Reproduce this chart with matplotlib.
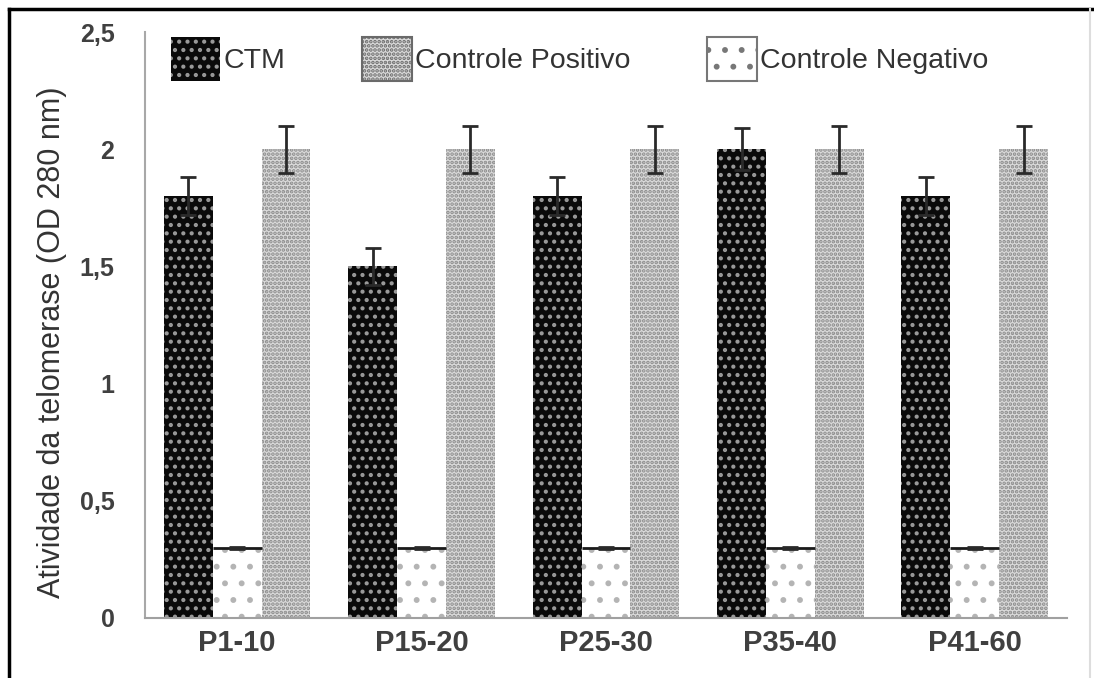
import numpy as np
import matplotlib
matplotlib.use("Agg")
import matplotlib.pyplot as plt
from matplotlib.patches import Patch
from matplotlib.lines import Line2D

plt.rcParams['font.family'] = ['Liberation Sans', 'DejaVu Sans']
plt.rcParams['hatch.linewidth'] = 1.8

grupos = ["P1-10", "P15-20", "P25-30", "P35-40", "P41-60"]
ctm = [1.8, 1.5, 1.8, 2.0, 1.8]
ctm_err = [0.08, 0.08, 0.08, 0.09, 0.08]
positivo = [2.0, 2.0, 2.0, 2.0, 2.0]
positivo_err = [0.1, 0.1, 0.1, 0.1, 0.1]
negativo = [0.3, 0.3, 0.3, 0.3, 0.3]
negativo_err = [0.005, 0.005, 0.005, 0.005, 0.005]
yticks = [0, 0.5, 1, 1.5, 2, 2.5]
ytick_labels = ["0", "0,5", "1", "1,5", "2", "2,5"]

fig = plt.figure(figsize=(10.94, 6.78), dpi=100)
ax = fig.add_axes([0.1325, 0.0885, 0.8428, 0.8643])

x = np.arange(len(grupos))
w = 0.265
err_kw = dict(ecolor='#2a2a2a', elinewidth=2, capsize=6, capthick=2)

# CTM: preto com pontos cinza claro
ax.bar(x - w, ctm, w, color='#0a0a0a', edgecolor='#9a9a9a', hatch='..',
       linewidth=0, yerr=ctm_err, error_kw=err_kw, zorder=2)
# Controle Negativo: branco com pontos esparsos
ax.bar(x, negativo, w, color='white', edgecolor='#b4b4b4', hatch='.',
       linewidth=0, zorder=2)
ax.hlines(negativo, x - w / 2, x + w / 2, color='#1a1a1a', linewidth=2, zorder=3)
ax.errorbar(x, negativo, yerr=negativo_err, fmt='none', zorder=4, **err_kw)
# Controle Positivo: cinza pontilhado
ax.bar(x + w, positivo, w, color='#dadada', edgecolor='#8a8a8a', hatch='....',
       linewidth=0, yerr=positivo_err, error_kw=err_kw, zorder=2)

ax.set_xlim(-0.5, len(grupos) - 0.5)
ax.set_ylim(0, 2.5)
ax.set_yticks(yticks)
ax.set_yticklabels(ytick_labels)
ax.set_xticks(x)
ax.set_xticklabels(grupos)
ax.tick_params(axis='y', length=0, pad=22, labelsize=18, labelcolor='#404040')
ax.tick_params(axis='x', length=0, pad=8, labelsize=21, labelcolor='#404040')
for lab in ax.get_xticklabels() + ax.get_yticklabels():
    lab.set_fontweight('bold')

for s in ['top', 'right']:
    ax.spines[s].set_visible(False)
ax.spines['left'].set_color('#a8a8a8')
ax.spines['bottom'].set_color('#a0a0a0')
ax.spines['left'].set_linewidth(1.5)
ax.spines['bottom'].set_linewidth(1.5)

ax.set_ylabel("Atividade da telomerase (OD 280 nm)", fontsize=22, color='#333333')
ax.yaxis.set_label_coords(-0.085, 0.47)

handles = [
    Patch(facecolor='#0a0a0a', edgecolor='#9a9a9a', hatch='..', linewidth=0),
    Patch(facecolor='#dadada', edgecolor='#6a6a6a', hatch='....', linewidth=1.5),
    Patch(facecolor='white', edgecolor='#777777', hatch='.', linewidth=1.5),
]
leg = ax.legend(handles, ["CTM", "Controle Positivo", "Controle Negativo"],
                ncol=3, loc='upper left', bbox_to_anchor=(0.0, 1.035),
                frameon=False, fontsize=20.5, handlelength=1.75, handleheight=2.0,
                handletextpad=0.1, columnspacing=2.7)
for t in leg.get_texts():
    t.set_color('#333333')

# moldura da imagem
fig.add_artist(Line2D([0.008, 0.008], [0, 0.987], transform=fig.transFigure,
                      color='black', linewidth=2.5))
fig.add_artist(Line2D([0.008, 1], [0.987, 0.987], transform=fig.transFigure,
                      color='black', linewidth=2.5))
fig.add_artist(Line2D([0.996, 0.996], [0, 0.987], transform=fig.transFigure,
                      color='#dddddd', linewidth=1.5))

fig.savefig("out.png", dpi=100)
